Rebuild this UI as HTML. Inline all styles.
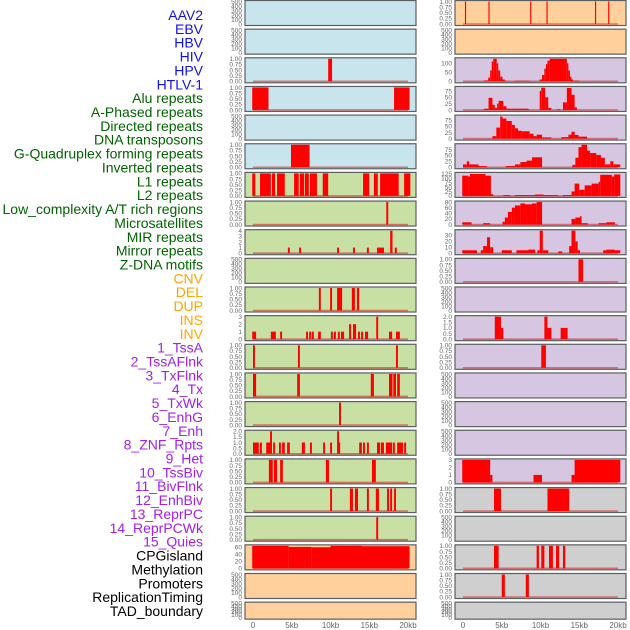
<!DOCTYPE html>
<html><head><meta charset="utf-8"><style>
html,body{margin:0;padding:0;background:#fff;}
svg{display:block;font-family:"Liberation Sans",sans-serif;}
</style></head><body>
<svg id="chart" width="630" height="630" viewBox="0 0 630 630" xmlns="http://www.w3.org/2000/svg"></svg>
<script>
// ---- data ----
const trackLabels = ["AAV2","EBV","HBV","HIV","HPV","HTLV-1","Alu repeats","A-Phased repeats","Directed repeats","DNA transposons","G-Quadruplex forming repeats","Inverted repeats","L1 repeats","L2 repeats","Low_complexity A/T rich regions","Microsatellites","MIR repeats","Mirror repeats","Z-DNA motifs","CNV","DEL","DUP","INS","INV","1_TssA","2_TssAFlnk","3_TxFlnk","4_Tx","5_TxWk","6_EnhG","7_Enh","8_ZNF_Rpts","9_Het","10_TssBiv","11_BivFlnk","12_EnhBiv","13_ReprPC","14_ReprPCWk","15_Quies","CPGisland","Methylation","Promoters","ReplicationTiming","TAD_boundary"];
const labelGroups = ["virus","virus","virus","virus","virus","virus","rep","rep","rep","rep","rep","rep","rep","rep","rep","rep","rep","rep","rep","sv","sv","sv","sv","sv","chrom","chrom","chrom","chrom","chrom","chrom","chrom","chrom","chrom","chrom","chrom","chrom","chrom","chrom","chrom","other","other","other","other","other"];
const xTickValues = [0,5,10,15,20];
const xTickLabels = ["0","5kb","10kb","15kb","20kb"];

const leftBg = ["b","b","b","b","b","b","g","g","g","g","g","g","g","g","g","g","g","g","g","o","o","o"];
const rightBg = ["o","o","p","p","p","p","p","p","p","p","p","p","p","p","p","p","p","e","e","e","e","e"];
const leftYMax = [500,500,1,1,500,1,1,1,4,500,1,3,1,1,1,2,1,1,1,64,500,500];
const rightYMax = [1,500,125,89,92,95,128,80,38,1,500,2,1,500,500,500,3,1,500,1,1,500];
const leftTicks = ["h","h","q","q","h","q","q","q","i4","h","q","i3","q","q","q","f2","q","q","q","c","h","h"];
const rightTicks = ["q","h","s50","s25","s25","s25","s125","s80","s10","q","h","f2","q","h","h","h","i3","q","h","q","q","h"];

const leftSegments = [
 [],[],
 [[9.7,10.2,1]],
 [[-0.1,2.0,1],[18.2,20.2,1]],
 [],
 [[4.9,7.3,1]],
 [[-0.1,0.3,1],[0.9,2.3,1],[2.45,2.85,1],[3.1,4.1,1],[5.3,5.9,1],[6.05,6.6,1],[6.7,7.2,1],[7.35,8.25,1],[9.0,9.7,1],[14.2,15.0,1],[15.6,16.1,1],[16.4,18.8,1],[19.5,20.3,1]],
 [[17.2,17.45,1]],
 [[4.5,4.75,1],[5.95,6.2,1],[10.85,11.1,1],[12.9,13.15,1],[14.7,14.95,1],[16.0,16.9,1],[17.7,18.0,4],[18.3,18.55,1]],
 [],
 [[8.5,8.75,1],[9.95,10.2,1],[10.85,11.5,1],[12.75,13.15,1],[13.4,13.7,1]],
 [[-0.1,0.4,1],[2.3,2.95,1],[3.5,3.75,1],[6.85,7.1,1],[7.25,7.5,1],[7.6,7.85,1],[8.4,8.75,1],[10.05,10.3,1],[10.45,10.7,1],[10.95,11.2,1],[11.35,11.75,1],[12.4,12.65,2],[12.9,13.3,2],[13.55,13.8,1],[13.95,14.2,1],[14.45,14.85,1],[15.9,16.15,3],[17.55,17.95,1],[18.45,18.95,1]],
 [[0,0.25,1],[5.8,6.05,1],[18.45,18.7,1]],
 [[0,0.4,1],[5.7,6.05,1],[15.2,15.6,1],[17.55,18.0,1],[18.1,18.45,1],[18.6,18.95,1]],
 [[11.1,11.35,1]],
 [[0,0.75,1],[0.9,1.15,1],[1.7,2.2,1],[2.2,2.45,2],[2.6,2.85,1],[3.35,3.6,1],[3.75,4.1,1],[4.4,4.75,1],[6.3,6.7,1],[7.35,7.6,1],[9.05,9.3,1],[9.95,10.2,1],[10.85,11.1,2],[11.1,11.25,1],[13.7,14.05,1],[14.2,14.45,1],[14.7,14.95,1],[16.0,16.4,1],[16.5,16.9,1],[17.15,17.95,1],[18.05,18.3,1],[18.6,19.35,1],[19.5,19.75,1]],
 [[2.05,2.55,1],[2.7,3.1,1],[3.5,3.85,1],[9.4,9.8,1],[15.35,15.85,1]],
 [[9.95,10.2,1],[12.5,12.9,1],[13.15,13.55,1],[14.7,14.95,1],[15.85,16.25,1],[17.3,17.55,1],[17.7,17.95,1],[18.2,18.45,1]],
 [[15.9,16.15,1]],
 [[-0.1,4.6,64],[4.6,7.5,61],[7.5,10.0,60],[10.0,14.0,64],[14.0,20.2,63]],
 [],[]
];
const rightSegments = [
 [[0.25,0.4,1],[3.28,3.43,1],[8.67,8.82,1],[10.77,10.92,1],[17.03,17.18,1],[18.73,18.88,1]],
 [],
 [[2.7,3.25,5],[3.25,3.5,20],[3.5,3.7,60],[3.7,3.9,110],[3.9,4.35,125],[4.35,4.55,100],[4.55,4.8,60],[4.8,5.1,25],[5.1,5.4,10],[5.4,5.7,3],[6.6,8.65,3],[9.9,10.2,10],[10.2,10.5,35],[10.5,10.7,70],[10.7,10.9,95],[10.9,11.2,115],[11.2,13.4,125],[13.4,13.6,100],[13.6,13.8,60],[13.8,14.0,25],[14.0,14.2,10],[14.2,15.0,4]],
 [[2.7,3.3,5],[3.3,3.8,48],[3.8,4.1,20],[4.1,4.4,8],[4.4,4.6,25],[4.6,5.2,36],[5.2,5.6,15],[5.6,8.4,5],[8.0,8.5,4],[9.9,10.1,75],[10.1,10.6,88],[10.6,11.0,50],[11.0,11.4,8],[12.1,12.5,3],[12.9,13.4,30],[13.4,14.0,87],[14.0,14.4,60],[14.4,14.7,10]],
 [[3.8,4.3,10],[4.3,4.8,45],[4.8,5.1,90],[5.1,5.6,82],[5.6,6.3,72],[6.3,6.7,56],[6.7,7.1,42],[7.1,7.6,32],[7.6,8.6,30],[8.6,9.1,20],[9.1,9.5,10],[9.5,10.2,16],[10.2,11.4,5],[12.7,13.6,6],[13.6,14.0,16],[14.0,14.4,28],[14.4,14.9,15],[14.9,16.0,8]],
 [[0,0.5,12],[0.5,0.8,25],[0.8,2.0,12],[2.0,3.1,5],[5.5,6.7,5],[6.7,7.4,12],[7.4,8.2,22],[8.2,8.9,28],[8.9,10.2,42],[14.1,14.5,10],[14.5,14.9,40],[14.9,15.3,85],[15.3,16.0,95],[16.0,16.4,70],[16.4,17.2,60],[17.2,17.8,52],[17.8,18.3,40],[18.3,19.0,12],[19.0,19.4,25],[19.4,20.3,12]],
 [[-0.1,0.7,115],[0.7,0.9,110],[0.9,2.9,125],[2.9,3.6,115],[3.6,3.9,10],[5.2,6.1,5],[6.7,9.3,5],[9.3,10.4,8],[10.4,12.3,5],[12.9,14.0,5],[14.0,14.4,25],[14.4,15.0,70],[15.0,15.7,35],[15.7,16.6,60],[16.6,17.5,70],[17.5,17.7,80],[17.7,19.2,120],[19.2,19.5,110],[19.5,20.3,122]],
 [[-0.1,1.1,8],[2.6,3.5,5],[5.1,5.4,10],[5.4,5.8,25],[5.8,6.3,45],[6.3,6.7,60],[6.7,7.4,68],[7.4,8.0,75],[8.0,8.9,72],[8.9,9.5,75],[9.5,10.2,80],[14.0,14.5,20],[14.5,15.1,25],[15.1,15.3,30],[15.3,16.1,5],[17.5,18.5,5],[18.5,19.6,8]],
 [[-0.1,1.8,5],[2.3,2.6,5],[2.6,3.1,12],[3.1,3.5,27],[3.5,3.9,10],[5.0,6.3,5],[6.9,8.4,5],[8.4,9.3,6],[9.6,9.9,5],[9.9,10.3,38],[10.3,11.0,5],[12.3,12.8,3],[13.7,14.0,12],[14.0,14.5,38],[14.5,14.8,20],[14.8,15.1,5],[18.1,18.5,5],[18.5,19.6,6],[19.6,20.3,5]],
 [[14.9,15.5,1]],
 [],
 [[4.1,4.9,2],[4.9,5.2,1],[10.5,10.9,2],[10.9,11.4,1],[12.6,13.5,1]],
 [[10.1,10.7,1]],
 [],[],[],
 [[-0.1,3.5,3],[3.5,3.8,1],[9.1,10.2,1],[14.0,14.4,1],[14.4,20.3,3]],
 [[4.0,4.9,1],[10.9,13.7,1]],
 [],
 [[4.0,4.6,1],[9.5,9.8,1],[10.1,10.5,1],[11.1,11.6,1],[12.0,12.4,1],[12.9,13.2,1]],
 [[5.0,5.4,1],[8.1,8.5,1]],
 []
];
// ---- drawing ----
const NS="http://www.w3.org/2000/svg";
const svg=document.getElementById('chart');
function mk(tag,attrs,parent){const e=document.createElementNS(NS,tag);for(const k in attrs)e.setAttribute(k,attrs[k]);(parent||svg).appendChild(e);return e;}
const bgColors={b:"#c8e4ec",g:"#c8e0a4",o:"#ffd09c",p:"#d6c6e2",e:"#cfcfcf"};
const groupColors={virus:"#1111ee",rep:"#006400",sv:"#ffa500",chrom:"#a020f0",other:"#000000"};
function tickSet(code){
  if(code==="q")return [[0,"0.00"],[0.25,"0.25"],[0.5,"0.50"],[0.75,"0.75"],[1,"1.00"]];
  if(code==="h")return [[0,"0"],[100,"100"],[200,"200"],[300,"300"],[400,"400"],[500,"500"]];
  if(code==="f2")return [[0,"0.0"],[0.5,"0.5"],[1,"1.0"],[1.5,"1.5"],[2,"2.0"]];
  if(code==="c")return [[0,"0"],[20,"20"],[40,"40"],[60,"60"]];
  if(code[0]==="i"){const n=+code.slice(1);const r=[];for(let v=0;v<=n;v++)r.push([v,String(v)]);return r;}
  if(code[0]==="s"){const st=+code.slice(1);const r=[];
    if(st===125){for(let v=0;v<=125;v+=25)r.push([v,String(v)]);return r;}
    if(st===80){for(let v=0;v<=80;v+=20)r.push([v,String(v)]);return r;}
    if(st===50)return [[0,"0"],[50,"50"],[100,"100"]];
    if(st===25)return [[0,"0"],[25,"25"],[50,"50"],[75,"75"]];
    if(st===10)return [[0,"0"],[10,"10"],[20,"20"],[30,"30"]];}
  return [];
}
// labels
trackLabels.forEach((t,k)=>{
  const e=mk('text',{x:203,y:20+13.86*k,'text-anchor':'end','font-size':'14',fill:groupColors[labelGroups[k]]});
  e.textContent=t;
  
  
});
function drawColumn(colName,px0,px1,x0kb,bgs,ymaxes,ticks,segs){
  const xs=kb=>x0kb+7.75*kb;
  for(let i=0;i<22;i++){
    const y0=0.5+28.65*i;const h=i===21?17:25;
    const g=mk('g',{});
    
    
    mk('rect',{x:px0,y:y0,width:px1-px0,height:h,fill:bgColors[bgs[i]],stroke:'#5a5f62','stroke-width':1.2},g);
    const ym=ymaxes[i];
    const ys=v=>y0+h-1.5-v/ym*(h-2.5);
    tickSet(ticks[i]).forEach(([v,l])=>{
      const t=mk('text',{x:px0-3,y:ys(v)+2.3,'text-anchor':'end','font-size':'6.5',fill:'#666'},g);
      t.textContent=l;
      
      
    });
    if(segs[i].length){
      mk('line',{x1:xs(0),x2:xs(20),y1:ys(0),y2:ys(0),stroke:'rgba(215,30,30,0.55)','stroke-width':1.6},g);
      segs[i].forEach(s=>{
        const r=mk('rect',{x:xs(s[0]),y:ys(s[2]),width:Math.max(0.8,xs(s[1])-xs(s[0])),height:ys(0)-ys(s[2]),fill:'#ff0000'},g);
        
        
      });
    }
  }
  xTickValues.forEach((v,k)=>{
    const t=mk('text',{x:xs(v),y:628,'text-anchor':'middle','font-size':'8',fill:'#666'});
    t.textContent=xTickLabels[k];
    
    
  });
}
drawColumn('left',245,416,253,leftBg,leftYMax,leftTicks,leftSegments);
drawColumn('right',455,626,463,rightBg,rightYMax,rightTicks,rightSegments);
</script>
</body></html>
